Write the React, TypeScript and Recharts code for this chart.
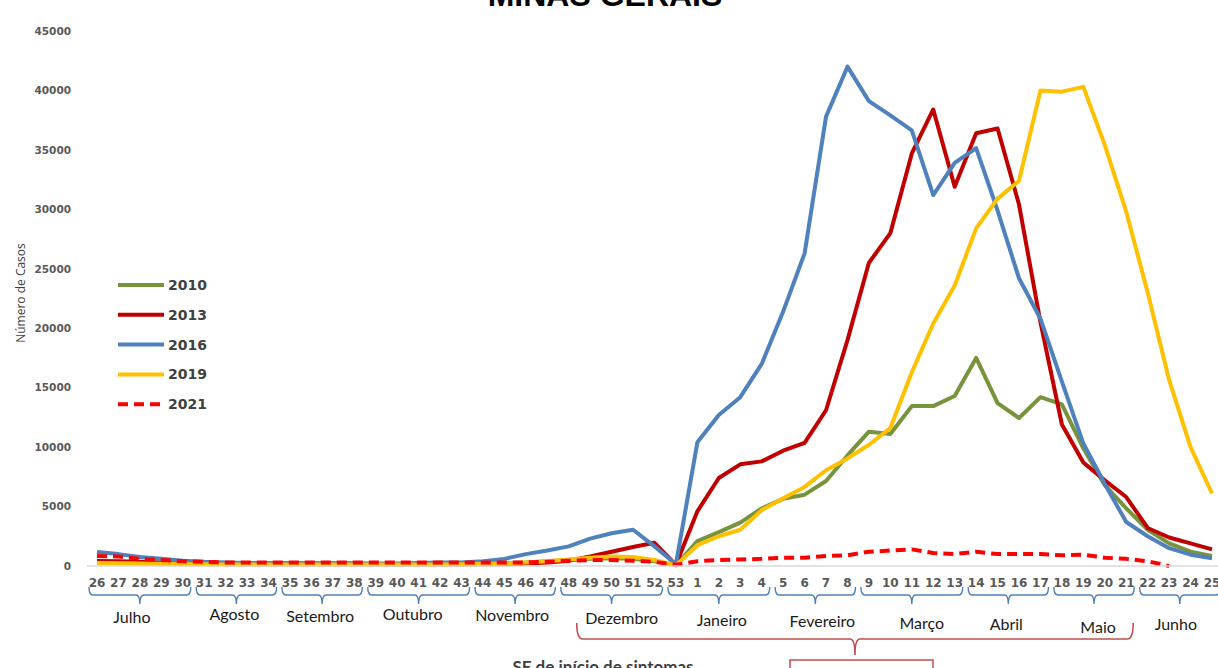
import React from "react";
import { LineChart, Line, XAxis, YAxis, ReferenceArea } from "recharts";

// Semanas epidemiológicas (SE 26 de um ano até SE 25 do seguinte)
const WEEKS = [
  "26", "27", "28", "29", "30", "31", "32", "33", "34", "35", "36", "37", "38",
  "39", "40", "41", "42", "43", "44", "45", "46", "47", "48", "49", "50", "51",
  "52", "53", "1", "2", "3", "4", "5", "6", "7", "8", "9", "10", "11", "12",
  "13", "14", "15", "16", "17", "18", "19", "20", "21", "22", "23", "24", "25",
];

const CASES_2010 = [
  300, 280, 250, 230, 200, 200, 180, 150, 150, 150, 150, 150, 150,
  150, 150, 150, 150, 150, 200, 250, 300, 400, 500, 600, 650, 600,
  400, 50, 2100, 2850, 3650, 4850, 5650, 6000, 7150, 9300, 11300, 11100, 13450, 13450,
  14300, 17500, 13700, 12450, 14200, 13600, 9900, 6800, 4850, 3050, 1900, 1200, 850,
];

const CASES_2013 = [
  420, 400, 350, 300, 300, 250, 250, 200, 200, 200, 200, 200, 200,
  150, 150, 150, 150, 150, 150, 150, 200, 300, 450, 800, 1200, 1600,
  1950, 100, 4600, 7400, 8550, 8800, 9700, 10350, 13100, 19000, 25500, 28000, 34700, 38400,
  31900, 36400, 36800, 30400, 20500, 11900, 8700, 7200, 5800, 3200, 2400, 1900, 1400,
];

const CASES_2016 = [
  1180, 1000, 750, 600, 450, 350, 300, 250, 250, 250, 200, 200, 200,
  200, 200, 250, 300, 300, 400, 600, 1000, 1300, 1650, 2300, 2750, 3050,
  1650, 150, 10400, 12700, 14200, 17000, 21400, 26300, 37800, 42000, 39100, 37900, 36650, 31200,
  33900, 35150, 29900, 24200, 20800, 15500, 10300, 6900, 3700, 2500, 1500, 950, 650,
];

const CASES_2019 = [
  250, 230, 200, 180, 150, 150, 130, 120, 120, 120, 120, 120, 120,
  120, 120, 120, 120, 150, 180, 220, 300, 400, 550, 700, 800, 750,
  500, 50, 1750, 2500, 3050, 4700, 5700, 6650, 8050, 9050, 10200, 11600, 16300, 20400,
  23600, 28400, 30900, 32400, 40000, 39900, 40300, 35400, 29800, 23000, 15650, 10000, 6100,
];

const CASES_2021 = [
  850, 800, 600, 500, 400, 350, 300, 300, 300, 300, 300, 300, 300,
  300, 300, 300, 300, 300, 300, 300, 300, 350, 450, 500, 500, 450,
  350, 100, 400, 500, 550, 600, 700, 700, 850, 900, 1200, 1300, 1400, 1100,
  1000, 1200, 1000, 1000, 1000, 900, 950, 700, 600, 400, 0, null, null,
];

const Y_TICKS = [0, 5000, 10000, 15000, 20000, 25000, 30000, 35000, 40000, 45000];

const MONTHS = [
  "Julho", "Agosto", "Setembro", "Outubro", "Novembro", "Dezembro",
  "Janeiro", "Fevereiro", "Março", "Abril", "Maio", "Junho",
];
const MONTH_FIRST_WEEK = ["26", "31", "35", "39", "44", "48", "53", "5", "9", "14", "18", "22"];
const MONTH_LAST_WEEK = ["30", "34", "38", "43", "47", "52", "4", "8", "13", "17", "21", "25"];
// small offsets of the month names (they sit in loose text boxes)
const MONTH_LABEL_DX = [-8, -2, -2, -6, -3, 10, 3, 7, 10, -2, 4, -4];
const MONTH_LABEL_DY = [0, -3, -1, -3, -2, 1, 3, 4, 6, 7, 10, 7];

const SERIES = [
  { key: "y2010", name: "2010", color: "#77933C", dash: undefined as string | undefined },
  { key: "y2013", name: "2013", color: "#C00000", dash: undefined },
  { key: "y2016", name: "2016", color: "#4F81BD", dash: undefined },
  { key: "y2019", name: "2019", color: "#FFC000", dash: undefined },
  { key: "y2021", name: "2021", color: "#FF0000", dash: "10 6" },
];

const data = WEEKS.map((week, i) => ({
  week,
  y2010: CASES_2010[i],
  y2013: CASES_2013[i],
  y2016: CASES_2016[i],
  y2019: CASES_2019[i],
  y2021: CASES_2021[i],
}));

const W = 1218;
const H = 668;
const VERDANA = "'DejaVu Sans', Verdana, sans-serif";
const CALIBRI = "Lato, 'Open Sans', sans-serif";
const BLUE_BRACE = "#4F81BD";
const RED_BRACE = "#C0504D";

function MonthBrace({ p, label, dx, dy }: { p: any; label: string; dx: number; dy: number }) {
  const base = p.y + p.height;
  const x0 = p.x - 8;
  const x1 = p.x + p.width + 8;
  const cx = (x0 + x1) / 2;
  const top = base + 21;
  const mid = base + 29;
  const tip = base + 38;
  const d =
    `M${x0},${top} Q${x0},${mid} ${x0 + 4},${mid} L${cx - 4},${mid} ` +
    `Q${cx},${mid} ${cx},${tip} Q${cx},${mid} ${cx + 4},${mid} ` +
    `L${x1 - 4},${mid} Q${x1},${mid} ${x1},${top}`;
  return (
    <g>
      <path d={d} fill="none" stroke={BLUE_BRACE} strokeWidth={1.4} />
      <text
        x={cx + dx}
        y={base + 51 + dy}
        dy="0.35em"
        textAnchor="middle"
        fontFamily={CALIBRI}
        fontSize={16}
        fill="#1a1a1a"
      >
        {label}
      </text>
    </g>
  );
}

function SeasonBrace({ p }: { p: any }) {
  const base = p.y + p.height;
  const x0 = p.x + 8;
  const x1 = p.x + p.width + 7;
  const cx = (x0 + x1) / 2;
  const top = base + 57;
  const mid = base + 73;
  const tip = base + 89;
  const d =
    `M${x0},${top} Q${x0},${mid} ${x0 + 6},${mid} L${cx - 5},${mid} ` +
    `Q${cx},${mid} ${cx},${tip} Q${cx},${mid} ${cx + 5},${mid} ` +
    `L${x1 - 6},${mid} Q${x1},${mid} ${x1},${top}`;
  return <path d={d} fill="none" stroke={RED_BRACE} strokeWidth={1.6} />;
}

export default function App() {
  return (
    <div
      style={{
        position: "absolute",
        left: 0,
        top: 0,
        width: W,
        height: H,
        overflow: "hidden",
        background: "#fff",
      }}
    >
      <LineChart
        width={W}
        height={H}
        data={data}
        margin={{ top: 31, right: 0, left: 0, bottom: 72 }}
      >
        <XAxis
          dataKey="week"
          interval={0}
          height={30}
          padding={{ left: 10, right: 6 }}
          tickLine={false}
          tickSize={0}
          tickMargin={12}
          axisLine={{ stroke: "#d9d9d9", strokeWidth: 1.5 }}
          tick={{ fontFamily: VERDANA, fontSize: 12, fontWeight: "bold", fill: "#595959" }}
        />
        <YAxis
          width={87}
          domain={[0, 45000]}
          ticks={Y_TICKS}
          interval={0}
          tickLine={false}
          axisLine={false}
          tickSize={0}
          tickMargin={16}
          tick={{ fontFamily: VERDANA, fontSize: 10.5, fontWeight: "bold", fill: "#595959" }}
        />
        {MONTHS.map((m, i) => (
          <ReferenceArea
            key={m}
            x1={MONTH_FIRST_WEEK[i]}
            x2={MONTH_LAST_WEEK[i]}
            y1={0}
            y2={45000}
            ifOverflow="visible"
            shape={(p: any) => (
              <MonthBrace p={p} label={m} dx={MONTH_LABEL_DX[i]} dy={MONTH_LABEL_DY[i]} />
            )}
          />
        ))}
        <ReferenceArea
          x1="48"
          x2="21"
          y1={0}
          y2={45000}
          ifOverflow="visible"
          shape={(p: any) => <SeasonBrace p={p} />}
        />
        {SERIES.map((s) => (
          <Line
            key={s.key}
            type="linear"
            dataKey={s.key}
            name={s.name}
            stroke={s.color}
            strokeWidth={4}
            strokeDasharray={s.dash}
            strokeLinejoin="round"
            dot={false}
            activeDot={false}
            isAnimationActive={false}
          />
        ))}
      </LineChart>

      <svg
        width={W}
        height={H}
        style={{ position: "absolute", left: 0, top: 0, pointerEvents: "none" }}
      >
        <text
          x={605}
          y={6}
          textAnchor="middle"
          fontFamily="'Liberation Sans', Arial, sans-serif"
          fontWeight="bold"
          fontSize={32}
          fill="#000"
        >
          MINAS GERAIS
        </text>
        <text
          transform="translate(21,293) rotate(-90)"
          textAnchor="middle"
          dy="0.35em"
          fontFamily="'Open Sans', sans-serif"
          fontSize={12}
          fill="#404040"
        >
          Número de Casos
        </text>
        {SERIES.map((s, i) => {
          const y = 285 + i * 29.8;
          return (
            <g key={s.key}>
              <line
                x1={118}
                x2={164}
                y1={y}
                y2={y}
                stroke={s.color}
                strokeWidth={4}
                strokeDasharray={s.dash}
              />
              <text
                x={168}
                y={y}
                dy="0.36em"
                fontFamily={VERDANA}
                fontWeight="bold"
                fontSize={14}
                fill="#404040"
              >
                {s.name}
              </text>
            </g>
          );
        })}
        <text
          x={603}
          y={673}
          textAnchor="middle"
          fontFamily={CALIBRI}
          fontWeight="bold"
          fontSize={17}
          fill="#404040"
        >
          SE de início de sintomas
        </text>
        <rect x={790} y={660} width={143} height={30} fill="none" stroke={RED_BRACE} strokeWidth={1.5} />
      </svg>
    </div>
  );
}
